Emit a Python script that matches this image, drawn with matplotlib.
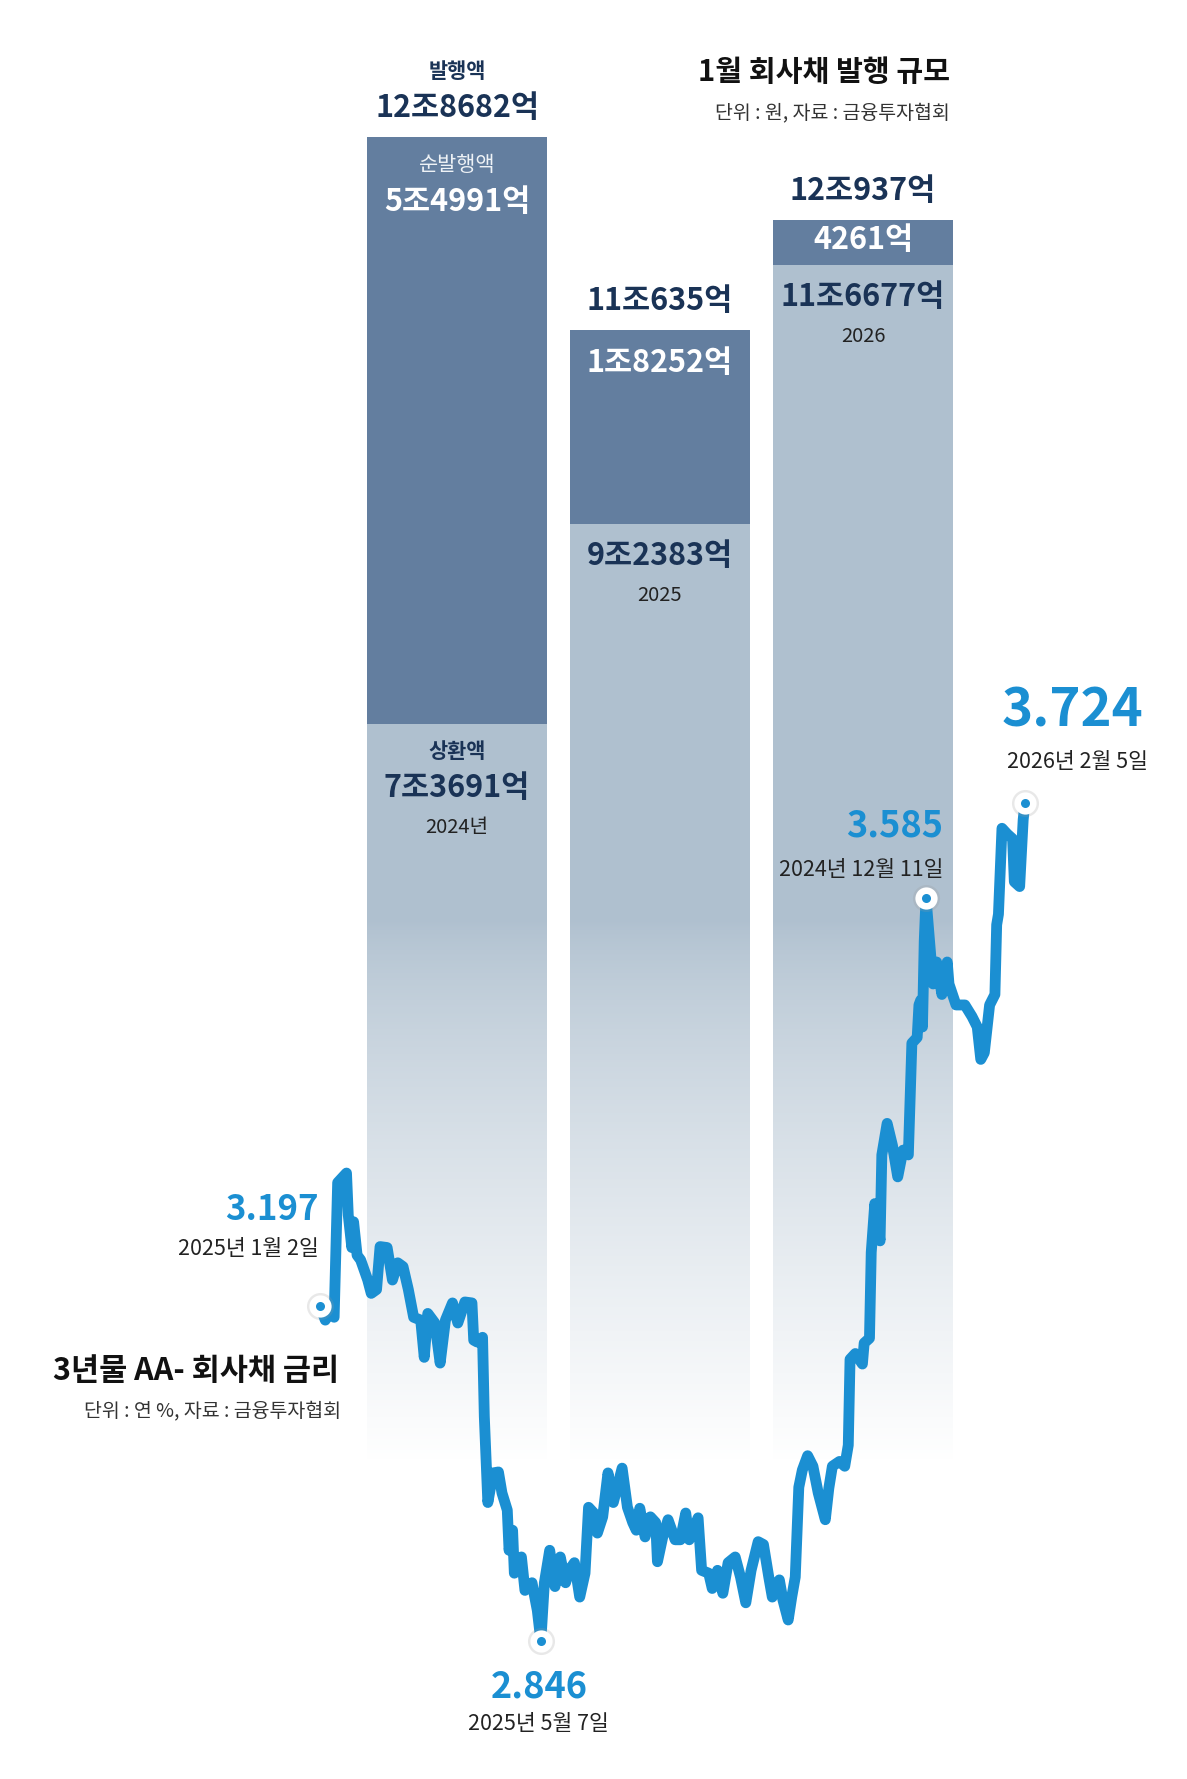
import numpy as np
import pandas as pd
import matplotlib
matplotlib.use("Agg")
import matplotlib.pyplot as plt
import matplotlib.dates as mdates

plt.rcParams['font.family'] = ['Noto Sans CJK KR', 'DejaVu Sans']

# 1월 회사채 발행 규모 (조원)
years = ['2024년', '2025', '2026']
issued = [12.8682, 11.0635, 12.0937]
net_issued = [5.4991, 1.8252, 0.4261]
redeemed = [7.3691, 9.2383, 11.6677]
issued_lbl = ['12조8682억', '11조635억', '12조937억']
net_lbl = ['5조4991억', '1조8252억', '4261억']
red_lbl = ['7조3691억', '9조2383억', '11조6677억']

# 3년물 AA- 회사채 금리 (연 %)
rate_dates = [
    '2025-01-02', '2025-01-05', '2025-01-08', '2025-01-10', '2025-01-12', '2025-01-17',
    '2025-01-18', '2025-01-20', '2025-01-21', '2025-01-23', '2025-01-25', '2025-01-29',
    '2025-01-31', '2025-02-03', '2025-02-05', '2025-02-09', '2025-02-12', '2025-02-15',
    '2025-02-18', '2025-02-21', '2025-02-24', '2025-02-28', '2025-03-02', '2025-03-04',
    '2025-03-08', '2025-03-11', '2025-03-14', '2025-03-18', '2025-03-21', '2025-03-25',
    '2025-03-29', '2025-03-30', '2025-04-01', '2025-04-04', '2025-04-05', '2025-04-07',
    '2025-04-10', '2025-04-13', '2025-04-15', '2025-04-18', '2025-04-19', '2025-04-21',
    '2025-04-22', '2025-04-26', '2025-04-28', '2025-05-02', '2025-05-05', '2025-05-07',
    '2025-05-09', '2025-05-12', '2025-05-15', '2025-05-18', '2025-05-21', '2025-05-23',
    '2025-05-26', '2025-05-29', '2025-06-01', '2025-06-03', '2025-06-06', '2025-06-08',
    '2025-06-11', '2025-06-14', '2025-06-17', '2025-06-22', '2025-06-25', '2025-06-28',
    '2025-06-30', '2025-07-02', '2025-07-05', '2025-07-08', '2025-07-11', '2025-07-12',
    '2025-07-15', '2025-07-18', '2025-07-22', '2025-07-25', '2025-07-28', '2025-07-30',
    '2025-08-04', '2025-08-06', '2025-08-10', '2025-08-12', '2025-08-15', '2025-08-18',
    '2025-08-21', '2025-08-25', '2025-08-28', '2025-08-31', '2025-09-03', '2025-09-07',
    '2025-09-10', '2025-09-13', '2025-09-15', '2025-09-18', '2025-09-19', '2025-09-21',
    '2025-09-24', '2025-09-26', '2025-09-28', '2025-09-30', '2025-10-02', '2025-10-05',
    '2025-10-08', '2025-10-11', '2025-10-15', '2025-10-17', '2025-10-19', '2025-10-23',
    '2025-10-26', '2025-10-28', '2025-10-29', '2025-11-01', '2025-11-05', '2025-11-06',
    '2025-11-09', '2025-11-10', '2025-11-12', '2025-11-15', '2025-11-16', '2025-11-19',
    '2025-11-22', '2025-11-25', '2025-11-28', '2025-12-01', '2025-12-03', '2025-12-06',
    '2025-12-07', '2025-12-08', '2025-12-09', '2025-12-10', '2025-12-11', '2025-12-15',
    '2025-12-17', '2025-12-20', '2025-12-23', '2025-12-24', '2025-12-28', '2026-01-02',
    '2026-01-06', '2026-01-09', '2026-01-11', '2026-01-13', '2026-01-16', '2026-01-19',
    '2026-01-20', '2026-01-21', '2026-01-23', '2026-01-26', '2026-01-29', '2026-01-30',
    '2026-02-02', '2026-02-04', '2026-02-05',
]
rate_vals = [
    3.197, 3.182, 3.193, 3.185, 3.326, 3.336,
    3.292, 3.258, 3.285, 3.250, 3.245, 3.224,
    3.210, 3.214, 3.259, 3.258, 3.224, 3.242,
    3.238, 3.214, 3.185, 3.182, 3.143, 3.189,
    3.179, 3.137, 3.182, 3.200, 3.179, 3.201,
    3.200, 3.161, 3.159, 3.164, 3.081, 2.991,
    3.022, 3.023, 3.001, 2.983, 2.941, 2.962,
    2.917, 2.934, 2.899, 2.907, 2.878, 2.846,
    2.907, 2.941, 2.903, 2.934, 2.907, 2.920,
    2.928, 2.892, 2.917, 2.986, 2.980, 2.959,
    2.976, 3.022, 2.991, 3.027, 2.986, 2.970,
    2.962, 2.985, 2.955, 2.976, 2.970, 2.929,
    2.955, 2.973, 2.952, 2.952, 2.980, 2.952,
    2.975, 2.920, 2.917, 2.901, 2.920, 2.896,
    2.928, 2.934, 2.913, 2.886, 2.920, 2.950,
    2.947, 2.913, 2.892, 2.907, 2.910, 2.889,
    2.868, 2.892, 2.913, 3.007, 3.025, 3.040,
    3.029, 3.001, 2.973, 3.006, 3.029, 3.034,
    3.029, 3.051, 3.141, 3.147, 3.136, 3.158,
    3.163, 3.253, 3.304, 3.265, 3.355, 3.388,
    3.365, 3.332, 3.360, 3.355, 3.472, 3.478,
    3.512, 3.517, 3.489, 3.579, 3.624, 3.534,
    3.557, 3.523, 3.557, 3.534, 3.512, 3.512,
    3.500, 3.489, 3.455, 3.462, 3.512, 3.523,
    3.596, 3.607, 3.697, 3.691, 3.686, 3.641,
    3.636, 3.706, 3.724,
]
# annotated points: (index, value text, date text)
marks = [
    (0, '3.197', '2025년 1월 2일'),
    (47, '2.846', '2025년 5월 7일'),
    (130, '3.585', '2024년 12월 11일'),
    (152, '3.724', '2026년 2월 5일'),
]

DARK = '#637e9f'
LIGHT = '#afc0cf'
NAVY = '#1a3356'
BLUE = '#1b8fd2'

W, H = 1187, 1779
fig = plt.figure(figsize=(W / 100, H / 100), dpi=100)
fig.patch.set_facecolor('white')

# ---- bars ----
ax = fig.add_axes([0, 0, 1, 1])
ax.axis('off')
ppu, base = 106.7, 1510          # pixels per 조, baseline from top
x0, step = 457, 203
pos = np.arange(len(years))
bw = 180 / step
ax.bar(pos, redeemed, width=bw, color=LIGHT, zorder=1)
ax.bar(pos, net_issued, bottom=redeemed, width=bw, color=DARK, zorder=1)

# white fade over the lower part of the bars
fade_top = (base - 920) / ppu
fade_bot = (base - 1460) / ppu
vv = np.linspace(-0.5, fade_top, 300)
alpha = np.clip((fade_top - vv) / (fade_top - fade_bot), 0, 1) ** 0.75
img = np.ones((len(vv), 1, 4))
img[:, 0, 3] = alpha
ax.imshow(img, extent=(-0.6, 2.6, -0.5, fade_top), origin='lower',
          aspect='auto', interpolation='bilinear', zorder=2)

ax.set_xlim(-x0 / step, (W - x0) / step)
ax.set_ylim((base - H) / ppu, base / ppu)

num_kw = dict(ha='center', va='center', fontweight='bold', fontsize=22, zorder=3)
for i in range(3):
    # issued total above bar
    ax.text(pos[i], issued[i] + 0.27, issued_lbl[i], color=NAVY, **num_kw)
    if i == 0:
        ax.text(pos[i], issued[i] + 0.61, '발행액', color=NAVY, ha='center',
                va='center', fontsize=15, fontweight='bold')
        ax.text(pos[i], issued[i] - 0.26, '순발행액', color='#eef2f6', ha='center',
                va='center', fontsize=15, zorder=3)
        ax.text(pos[i], issued[i] - 0.61, net_lbl[i], color='white', **num_kw)
        ax.text(pos[i], redeemed[i] - 0.26, '상환액', color=NAVY, ha='center',
                va='center', fontsize=15, fontweight='bold', zorder=3)
        ax.text(pos[i], redeemed[i] - 0.60, red_lbl[i], color=NAVY, **num_kw)
        ax.text(pos[i], redeemed[i] - 0.97, years[i], color='#222222', ha='center',
                va='center', fontsize=14.5, zorder=3)
    else:
        ax.text(pos[i], issued[i] - (0.31 if i == 1 else 0.19), net_lbl[i],
                color='white', **num_kw)
        ax.text(pos[i], redeemed[i] - 0.30, red_lbl[i], color=NAVY, **num_kw)
        ax.text(pos[i], redeemed[i] - 0.67, years[i], color='#222222', ha='center',
                va='center', fontsize=14.5, zorder=3)

fig.text(950 / W, 1 - 72 / H, '1월 회사채 발행 규모', ha='right', va='center',
         fontsize=21, fontweight='bold', color='#111111')
fig.text(950 / W, 1 - 113 / H, '단위 : 원, 자료 : 금융투자협회', ha='right',
         va='center', fontsize=14, color='#333333')

# ---- rate line ----
ax2 = fig.add_axes([0, 0, 1, 1])
ax2.patch.set_alpha(0)
ax2.axis('off')
dates = pd.to_datetime(rate_dates)
ax2.plot(dates, rate_vals, color=BLUE, lw=7.8, solid_joinstyle='round',
         solid_capstyle='round', zorder=3)

d0 = mdates.date2num(pd.Timestamp('2025-01-02'))
dpp = 0.566                      # days per pixel
ax2.set_xlim(d0 - 320 * dpp, d0 + (W - 320) * dpp)
vpp = 1 / 955                    # % per pixel
ax2.set_ylim(2.846 - (H - 1641) * vpp, 2.846 + 1641 * vpp)

offsets = {
    0: ((-1, 96), (-1, 57), 'right', 25),
    47: ((-2, -46), (-2, -83), 'center', 26),
    130: ((17, 72), (17, 28), 'right', 26),
    152: ((48, 92), (52, 41), 'center', 38),
}
for idx, vtxt, dtxt in marks:
    xd, yd = dates[idx], rate_vals[idx]
    ax2.plot([xd], [yd], 'o', ms=19.5, color='#9a9a9a', alpha=0.22, mec='none', zorder=4)
    ax2.plot([xd], [yd], 'o', ms=16, color='white', mec='none', zorder=5)
    ax2.plot([xd], [yd], 'o', ms=6.5, color=BLUE, mec='none', zorder=6)
    voff, doff, ha, fs = offsets[idx]
    ax2.annotate(vtxt, (xd, yd), xytext=voff, textcoords='offset pixels',
                 ha=ha, va='center', fontsize=fs, fontweight='bold', color=BLUE)
    ax2.annotate(dtxt, (xd, yd), xytext=doff, textcoords='offset pixels',
                 ha=ha, va='center', fontsize=15.5, color='#222222')

fig.text(53 / W, 1 - 1371 / H, '3년물 AA- 회사채 금리', ha='left', va='center',
         fontsize=22, fontweight='bold', color='#111111')
fig.text(341 / W, 1 - 1411 / H, '단위 : 연 %, 자료 : 금융투자협회', ha='right',
         va='center', fontsize=14, color='#333333')

fig.savefig('out.png', dpi=100, facecolor='white')
